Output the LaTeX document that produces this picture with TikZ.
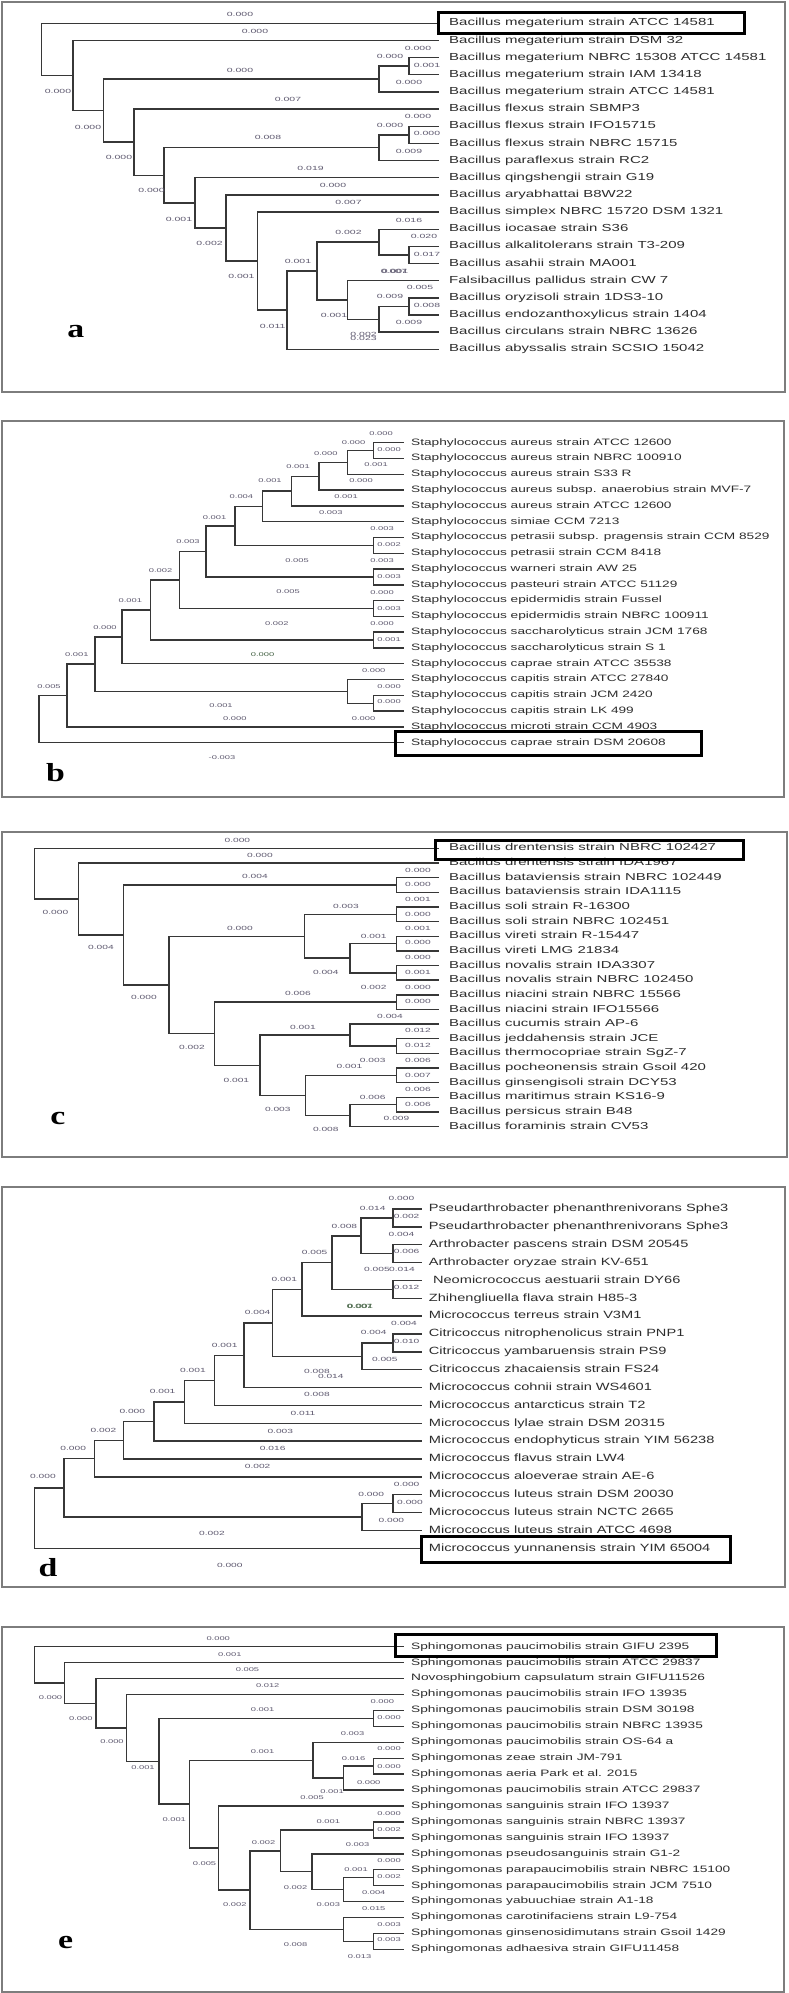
\documentclass[tikz,border=0pt]{standalone}
\usepackage{fontspec}
\usepackage{graphicx}
\setmainfont{Liberation Sans}
\newfontfamily\serifb{Liberation Serif}
\usetikzlibrary{calc}
\definecolor{treec}{RGB}{55,55,55}
\definecolor{leafc}{RGB}{45,45,45}
\definecolor{blc}{RGB}{95,90,112}
\definecolor{blg}{RGB}{70,100,70}
\definecolor{framec}{RGB}{125,125,125}
\newcounter{blcount}
\newcommand\BLab[4][blc]{\stepcounter{blcount}\node[blab,text=#1] (bl\theblcount) at (#2,#3) {\scalebox{\bsx}[1]{#4}};}
\newcommand\Leaf[3]{\node[leaf] (#1) at (\lxe,{\yo+\ys*(#2-1)}) {\scalebox{\lsx}[1]{#3}};}
\newcommand\TreeN[4]{\path let \p1=(#3),\p2=(#4) in coordinate (#1) at ({#2pt},{(\y1+\y2)/2});
  \draw[tree] (#1) |- (#3); \draw[tree] (#1) |- (#4);}
\newcommand\PanelSet[8]{\def\lfs{#1}\def\lsx{#2}\def\lth{#3}\def\ltd{#4}\def\lxs{#5}\def\bfs{#6}\def\bsx{#7}\def\lxe{#8}}
\begin{document}
\begin{tikzpicture}[x=1pt,y=-1pt,
  tree/.style={draw=treec,line width=1.4pt},
  leaf/.style={anchor=west,inner xsep=\lxs,inner ysep=0pt,text=leafc,
    font=\fontsize{\lfs}{\lfs}\selectfont,text height=\lth,text depth=\ltd},
  blab/.style={inner sep=0pt,font=\fontsize{\bfs}{\bfs}\selectfont},
  plet/.style={inner sep=0pt,font=\fontsize{26}{26}\serifb\bfseries,text=black},
  frame/.style={draw=framec,line width=1.2pt},
  hbox/.style={draw=black,line width=3pt}]
\useasboundingbox[fill=white] (0,0) rectangle (789,1993);

%% ===================== panel a =====================
\draw[frame] (2,2) rectangle (785,392);
\PanelSet{10.2}{1.47}{7.4pt}{2.2pt}{10pt}{6}{1.75}{439}
\def\yo{23.3}\def\ys{17.16}
\Leaf{aL1}{1}{Bacillus megaterium strain ATCC 14581}
\Leaf{aL2}{2}{Bacillus megaterium strain DSM 32}
\Leaf{aL3}{3}{Bacillus megaterium NBRC 15308 ATCC 14581}
\Leaf{aL4}{4}{Bacillus megaterium strain IAM 13418}
\Leaf{aL5}{5}{Bacillus megaterium strain ATCC 14581}
\Leaf{aL6}{6}{Bacillus flexus strain SBMP3}
\Leaf{aL7}{7}{Bacillus flexus strain IFO15715}
\Leaf{aL8}{8}{Bacillus flexus strain NBRC 15715}
\Leaf{aL9}{9}{Bacillus paraflexus strain RC2}
\Leaf{aL10}{10}{Bacillus qingshengii strain G19}
\Leaf{aL11}{11}{Bacillus aryabhattai B8W22}
\Leaf{aL12}{12}{Bacillus simplex NBRC 15720 DSM 1321}
\Leaf{aL13}{13}{Bacillus iocasae strain S36}
\Leaf{aL14}{14}{Bacillus alkalitolerans strain T3-209}
\Leaf{aL15}{15}{Bacillus asahii strain MA001}
\Leaf{aL16}{16}{Falsibacillus pallidus strain CW 7}
\Leaf{aL17}{17}{Bacillus oryzisoli strain 1DS3-10}
\Leaf{aL18}{18}{Bacillus endozanthoxylicus strain 1404}
\Leaf{aL19}{19}{Bacillus circulans strain NBRC 13626}
\Leaf{aL20}{20}{Bacillus abyssalis strain SCSIO 15042}
\TreeN{aN34}{409}{aL3.west}{aL4.west}
\TreeN{aN35}{379}{aN34}{aL5.west}
\TreeN{aN78}{409}{aL7.west}{aL8.west}
\TreeN{aN79}{379}{aN78}{aL9.west}
\TreeN{aN1415}{409}{aL14.west}{aL15.west}
\TreeN{aN1315}{379}{aL13.west}{aN1415}
\TreeN{aN1718}{409}{aL17.west}{aL18.west}
\TreeN{aN1719}{379}{aN1718}{aL19.west}
\TreeN{aN1619}{347.5}{aL16.west}{aN1719}
\TreeN{aN1319}{317}{aN1315}{aN1619}
\TreeN{aN1320}{287}{aN1319}{aL20.west}
\TreeN{aN1220}{257.6}{aL12.west}{aN1320}
\TreeN{aN1120}{226}{aL11.west}{aN1220}
\TreeN{aN1020}{195}{aL10.west}{aN1120}
\TreeN{aN720}{164}{aN79}{aN1020}
\TreeN{aN620}{134}{aL6.west}{aN720}
\TreeN{aN320}{103.5}{aN35}{aN620}
\TreeN{aN220}{73}{aL2.west}{aN320}
\TreeN{aN120}{41.4}{aL1.west}{aN220}
\draw[hbox] (438,12.3) rectangle (744,33.3);
\BLab{240}{14}{0.000}\BLab{255}{31}{0.000}\BLab{418}{48.3}{0.000}
\BLab{390}{56}{0.000}\BLab{427}{65}{0.001}\BLab{240}{70}{0.000}
\BLab{409}{82.3}{0.000}\BLab{58}{91}{0.000}\BLab{288}{99.3}{0.007}
\BLab{418}{116.7}{0.000}\BLab{390}{125}{0.000}\BLab{427}{133.3}{0.000}
\BLab{88}{127.7}{0.000}\BLab{268}{137.7}{0.008}\BLab{409}{151.7}{0.009}
\BLab{119}{157.7}{0.000}\BLab{310.6}{168.3}{0.019}\BLab{151.5}{190.7}{0.000}
\BLab{333}{185}{0.000}\BLab{348.5}{202.7}{0.007}\BLab{179}{219}{0.001}
\BLab{409}{220}{0.016}\BLab{348.5}{232.3}{0.002}\BLab{424}{236.7}{0.020}
\BLab{209.6}{243.3}{0.002}\BLab{427}{254}{0.017}\BLab{298}{261}{0.001}
\BLab{394}{271}{0.007}\BLab{395}{271}{0.001}
\BLab{241.4}{276.7}{0.001}\BLab{420}{287.7}{0.005}\BLab{390}{296.7}{0.009}
\BLab{427}{305.7}{0.008}\BLab{334}{315.7}{0.001}\BLab{409}{322.7}{0.009}
\BLab{272.7}{326.7}{0.011}\BLab{363.6}{334}{0.002}\BLab{363.6}{338.3}{0.023}
\node[plet] (pa) at (75.8,331.7) {\scalebox{1.3}[1]{a}};

%% ===================== panel b =====================
\draw[frame] (2,421) rectangle (784,797);
\PanelSet{9.3}{1.47}{6.7pt}{2pt}{7pt}{5.5}{1.7}{404}
\def\yo{442.7}\def\ys{15.79}
\Leaf{bL1}{1}{Staphylococcus aureus strain ATCC 12600}
\Leaf{bL2}{2}{Staphylococcus aureus strain NBRC 100910}
\Leaf{bL3}{3}{Staphylococcus aureus strain S33 R}
\Leaf{bL4}{4}{Staphylococcus aureus subsp. anaerobius strain MVF-7}
\Leaf{bL5}{5}{Staphylococcus aureus strain ATCC 12600}
\Leaf{bL6}{6}{Staphylococcus simiae CCM 7213}
\Leaf{bL7}{7}{Staphylococcus petrasii subsp. pragensis strain CCM 8529}
\Leaf{bL8}{8}{Staphylococcus petrasii strain CCM 8418}
\Leaf{bL9}{9}{Staphylococcus warneri strain AW 25}
\Leaf{bL10}{10}{Staphylococcus pasteuri strain ATCC 51129}
\Leaf{bL11}{11}{Staphylococcus epidermidis strain Fussel}
\Leaf{bL12}{12}{Staphylococcus epidermidis strain NBRC 100911}
\Leaf{bL13}{13}{Staphylococcus saccharolyticus strain JCM 1768}
\Leaf{bL14}{14}{Staphylococcus saccharolyticus strain S 1}
\Leaf{bL15}{15}{Staphylococcus caprae strain ATCC 35538}
\Leaf{bL16}{16}{Staphylococcus capitis strain ATCC 27840}
\Leaf{bL17}{17}{Staphylococcus capitis strain JCM 2420}
\Leaf{bL18}{18}{Staphylococcus capitis strain LK 499}
\Leaf{bL19}{19}{Staphylococcus microti strain CCM 4903}
\Leaf{bL20}{20}{Staphylococcus caprae strain DSM 20608}
\TreeN{bN12}{373.7}{bL1.west}{bL2.west}
\TreeN{bN13}{347.5}{bN12}{bL3.west}
\TreeN{bN14}{319}{bN13}{bL4.west}
\TreeN{bN15}{291.4}{bN14}{bL5.west}
\TreeN{bN16}{262.6}{bN15}{bL6.west}
\TreeN{bN78}{373.7}{bL7.west}{bL8.west}
\TreeN{bN18}{234.8}{bN16}{bN78}
\TreeN{bN910}{373.7}{bL9.west}{bL10.west}
\TreeN{bN110}{206}{bN18}{bN910}
\TreeN{bN1112}{373.7}{bL11.west}{bL12.west}
\TreeN{bN112}{179.3}{bN110}{bN1112}
\TreeN{bN1314}{373.7}{bL13.west}{bL14.west}
\TreeN{bN114}{150.5}{bN112}{bN1314}
\TreeN{bN115}{122}{bN114}{bL15.west}
\TreeN{bN1718}{373.7}{bL17.west}{bL18.west}
\TreeN{bN1618}{347.5}{bL16.west}{bN1718}
\TreeN{bN118}{95}{bN115}{bN1618}
\TreeN{bN119}{67}{bN118}{bL19.west}
\TreeN{bN120}{39}{bN119}{bL20.west}
\draw[hbox] (395.5,731) rectangle (701,755.7);
\BLab{381}{433.3}{0.000}\BLab{353.5}{442.7}{0.000}\BLab{389}{449.3}{0.000}
\BLab{325.8}{453.3}{0.000}\BLab{376}{465}{0.001}\BLab{298}{466.7}{0.001}
\BLab{361}{481}{0.000}\BLab{270}{481}{0.001}\BLab{346}{496.7}{0.001}
\BLab{241.4}{496.7}{0.004}\BLab{330.8}{512.7}{0.003}\BLab{214.6}{517.3}{0.001}
\BLab{382}{528.3}{0.003}\BLab{188}{541.7}{0.003}\BLab{389}{545}{0.002}
\BLab{297}{560.7}{0.005}\BLab{382}{560.7}{0.003}\BLab{160.6}{570.7}{0.002}
\BLab{389}{576.7}{0.003}\BLab{288}{592}{0.005}\BLab{382}{592.3}{0.000}
\BLab{130.3}{600.7}{0.001}\BLab{389}{608.3}{0.003}\BLab{276.8}{623.3}{0.002}
\BLab{382}{623.3}{0.000}\BLab{105}{627.3}{0.000}\BLab{389}{640}{0.001}
\BLab{76.8}{654.3}{0.001}\BLab[blg]{262.6}{654.3}{0.000}\BLab{373.7}{670.7}{0.000}
\BLab{49}{686.7}{0.005}\BLab{389}{686.7}{0.000}\BLab{389}{701.7}{0.000}
\BLab{221}{706}{0.001}\BLab{234.8}{718.3}{0.000}\BLab{363.6}{718.3}{0.000}
\BLab{222}{757.3}{-0.003}
\node[plet] (pb) at (55.5,773) {\scalebox{1.3}[1]{b}};

%% ===================== panel c =====================
\draw[frame] (2,832) rectangle (787,1157);
\PanelSet{10}{1.5}{7.2pt}{2.1pt}{10pt}{6}{1.7}{439}
\def\yo{848.3}\def\ys{14.65}
\Leaf{cL1}{1}{Bacillus drentensis strain NBRC 102427}
\Leaf{cL2}{2}{Bacillus drentensis strain IDA1967}
\Leaf{cL3}{3}{Bacillus bataviensis strain NBRC 102449}
\Leaf{cL4}{4}{Bacillus bataviensis strain IDA1115}
\Leaf{cL5}{5}{Bacillus soli strain R-16300}
\Leaf{cL6}{6}{Bacillus soli strain NBRC 102451}
\Leaf{cL7}{7}{Bacillus vireti strain R-15447}
\Leaf{cL8}{8}{Bacillus vireti LMG 21834}
\Leaf{cL9}{9}{Bacillus novalis strain IDA3307}
\Leaf{cL10}{10}{Bacillus novalis strain NBRC 102450}
\Leaf{cL11}{11}{Bacillus niacini strain NBRC 15566}
\Leaf{cL12}{12}{Bacillus niacini strain IFO15566}
\Leaf{cL13}{13}{Bacillus cucumis strain AP-6}
\Leaf{cL14}{14}{Bacillus jeddahensis strain JCE}
\Leaf{cL15}{15}{Bacillus thermocopriae strain SgZ-7}
\Leaf{cL16}{16}{Bacillus pocheonensis strain Gsoil 420}
\Leaf{cL17}{17}{Bacillus ginsengisoli strain DCY53}
\Leaf{cL18}{18}{Bacillus maritimus strain KS16-9}
\Leaf{cL19}{19}{Bacillus persicus strain B48}
\Leaf{cL20}{20}{Bacillus foraminis strain CV53}
\TreeN{cN34}{396.5}{cL3.west}{cL4.west}
\TreeN{cN56}{396.5}{cL5.west}{cL6.west}
\TreeN{cN78}{396.5}{cL7.west}{cL8.west}
\TreeN{cN910}{396.5}{cL9.west}{cL10.west}
\TreeN{cN710}{350}{cN78}{cN910}
\TreeN{cN510}{304.5}{cN56}{cN710}
\TreeN{cN1112}{396.5}{cL11.west}{cL12.west}
\TreeN{cN1415}{396.5}{cL14.west}{cL15.west}
\TreeN{cN1315}{350}{cL13.west}{cN1415}
\TreeN{cN1617}{396.5}{cL16.west}{cL17.west}
\TreeN{cN1819}{396.5}{cL18.west}{cL19.west}
\TreeN{cN1820}{350}{cN1819}{cL20.west}
\TreeN{cN1620}{305.6}{cN1617}{cN1820}
\TreeN{cN1320}{260}{cN1315}{cN1620}
\TreeN{cN1120}{214.6}{cN1112}{cN1320}
\TreeN{cN520}{169}{cN510}{cN1120}
\TreeN{cN320}{123.7}{cN34}{cN520}
\TreeN{cN220}{78.3}{cL2.west}{cN320}
\TreeN{cN120}{34.3}{cL1.west}{cN220}
\draw[hbox] (435,840.7) rectangle (743.4,859.3);
\BLab{237.4}{840.7}{0.000}\BLab{260}{855}{0.000}\BLab{418}{870}{0.000}
\BLab{255}{876.7}{0.004}\BLab{418}{884}{0.000}\BLab{418}{899.3}{0.001}
\BLab{55.5}{912.7}{0.000}\BLab{346}{906.7}{0.003}\BLab{418}{914}{0.000}
\BLab{418}{928.3}{0.001}\BLab{240}{928.3}{0.000}\BLab{373.7}{936.7}{0.001}
\BLab{418}{942.7}{0.000}\BLab{101}{947.7}{0.004}\BLab{418}{957.3}{0.000}
\BLab{325.8}{972.7}{0.004}\BLab{418}{972.7}{0.001}\BLab{373.7}{987.7}{0.002}
\BLab{418}{987.7}{0.000}\BLab{298}{993.3}{0.006}\BLab{144}{997.5}{0.000}
\BLab{418}{1001.7}{0.000}\BLab{390}{1016}{0.004}\BLab{303}{1027.3}{0.001}
\BLab{418}{1030.7}{0.012}\BLab{192}{1047.3}{0.002}\BLab{418}{1045.7}{0.012}
\BLab{372.7}{1060}{0.003}\BLab{418}{1060}{0.006}\BLab{349.5}{1066.7}{0.001}
\BLab{418}{1075}{0.007}\BLab{236.4}{1080}{0.001}\BLab{418}{1089}{0.006}
\BLab{372.7}{1097.3}{0.006}\BLab{418}{1104}{0.006}\BLab{277.8}{1109}{0.003}
\BLab{396.5}{1118.3}{0.009}\BLab{325.8}{1129.3}{0.008}
\node[plet] (pc) at (58,1118) {\scalebox{1.3}[1]{c}};

%% ===================== panel d =====================
\draw[frame] (2,1187) rectangle (785,1587);
\PanelSet{10.5}{1.39}{7.6pt}{2.2pt}{7pt}{6}{1.7}{421.7}
\def\yo{1209}\def\ys{17.86}
\Leaf{dL1}{1}{Pseudarthrobacter phenanthrenivorans Sphe3}
\Leaf{dL2}{2}{Pseudarthrobacter phenanthrenivorans Sphe3}
\Leaf{dL3}{3}{Arthrobacter pascens strain DSM 20545}
\Leaf{dL4}{4}{Arthrobacter oryzae strain KV-651}
\Leaf{dL5}{5}{\hspace{3pt}Neomicrococcus aestuarii strain DY66}
\Leaf{dL6}{6}{Zhihengliuella flava strain H85-3}
\Leaf{dL7}{7}{Micrococcus terreus strain V3M1}
\Leaf{dL8}{8}{Citricoccus nitrophenolicus strain PNP1}
\Leaf{dL9}{9}{Citricoccus yambaruensis strain PS9}
\Leaf{dL10}{10}{Citricoccus zhacaiensis strain FS24}
\Leaf{dL11}{11}{Micrococcus cohnii strain WS4601}
\Leaf{dL12}{12}{Micrococcus antarcticus strain T2}
\Leaf{dL13}{13}{Micrococcus lylae strain DSM 20315}
\Leaf{dL14}{14}{Micrococcus endophyticus strain YIM 56238}
\Leaf{dL15}{15}{Micrococcus flavus strain LW4}
\Leaf{dL16}{16}{Micrococcus aloeverae strain AE-6}
\Leaf{dL17}{17}{Micrococcus luteus strain DSM 20030}
\Leaf{dL18}{18}{Micrococcus luteus strain NCTC 2665}
\Leaf{dL19}{19}{Micrococcus luteus strain ATCC 4698}
\Leaf{dL20}{20}{Micrococcus yunnanensis strain YIM 65004}
\TreeN{dN12}{393}{dL1.west}{dL2.west}
\TreeN{dN34}{393}{dL3.west}{dL4.west}
\TreeN{dN14}{361}{dN12}{dN34}
\TreeN{dN56}{393}{dL5.west}{dL6.west}
\TreeN{dN16}{331.8}{dN14}{dN56}
\TreeN{dN17}{302}{dN16}{dL7.west}
\TreeN{dN89}{393}{dL8.west}{dL9.west}
\TreeN{dN810}{362}{dN89}{dL10.west}
\TreeN{dN110}{272.7}{dN17}{dN810}
\TreeN{dN111}{244}{dN110}{dL11.west}
\TreeN{dN112}{214.6}{dN111}{dL12.west}
\TreeN{dN113}{184.3}{dN112}{dL13.west}
\TreeN{dN114}{154}{dN113}{dL14.west}
\TreeN{dN115}{123.7}{dN114}{dL15.west}
\TreeN{dN116}{94.4}{dN115}{dL16.west}
\TreeN{dN1718}{393}{dL17.west}{dL18.west}
\TreeN{dN1719}{362}{dN1718}{dL19.west}
\TreeN{dN119}{64}{dN116}{dN1719}
\TreeN{dN120}{34.3}{dN119}{dL20.west}
\draw[hbox] (421.7,1536.7) rectangle (730.8,1562.3);
\BLab{401.5}{1198.3}{0.000}\BLab{372.7}{1208.3}{0.014}\BLab{406.6}{1216.7}{0.002}
\BLab{344.4}{1226}{0.008}\BLab{401.5}{1234.3}{0.004}\BLab{406.6}{1251.7}{0.006}
\BLab{314.6}{1252.3}{0.005}\BLab{377}{1269}{0.005}\BLab{402}{1269}{0.014}
\BLab{284.3}{1279}{0.001}\BLab{406.6}{1287.7}{0.012}
\BLab[blg]{359.6}{1306}{0.007}\BLab[blg]{360.4}{1306}{0.001}
\BLab{257.6}{1312.7}{0.004}\BLab{404}{1323.3}{0.004}\BLab{373.7}{1332.3}{0.004}
\BLab{406.6}{1341.7}{0.010}\BLab{224.7}{1345}{0.001}\BLab{384.8}{1359.3}{0.005}
\BLab{193}{1370.7}{0.001}\BLab{317}{1371.7}{0.008}\BLab{330.8}{1376.7}{0.014}
\BLab{162.6}{1391.7}{0.001}\BLab{317}{1394}{0.008}\BLab{132.3}{1411}{0.000}
\BLab{303}{1413.3}{0.011}\BLab{103.5}{1430}{0.002}\BLab{280.3}{1431}{0.003}
\BLab{73.2}{1448.3}{0.000}\BLab{272.7}{1448.3}{0.016}\BLab{257.6}{1466.7}{0.002}
\BLab{43}{1476.7}{0.000}\BLab{406.6}{1484.3}{0.000}\BLab{371.2}{1494.3}{0.000}
\BLab{410}{1502.3}{0.000}\BLab{391.4}{1520}{0.000}\BLab{212}{1533.3}{0.002}
\BLab{229.8}{1565}{0.000}
\node[plet] (pd) at (48,1568) {\scalebox{1.3}[1]{d}};

%% ===================== panel e =====================
\draw[frame] (2,1627) rectangle (784,1992);
\PanelSet{9.3}{1.47}{6.7pt}{2pt}{7pt}{5.5}{1.7}{404}
\def\yo{1646.7}\def\ys{15.93}
\Leaf{eL1}{1}{Sphingomonas paucimobilis strain GIFU 2395}
\Leaf{eL2}{2}{Sphingomonas paucimobilis strain ATCC 29837}
\Leaf{eL3}{3}{Novosphingobium capsulatum strain GIFU11526}
\Leaf{eL4}{4}{Sphingomonas paucimobilis strain IFO 13935}
\Leaf{eL5}{5}{Sphingomonas paucimobilis strain DSM 30198}
\Leaf{eL6}{6}{Sphingomonas paucimobilis strain NBRC 13935}
\Leaf{eL7}{7}{Sphingomonas paucimobilis strain OS-64 a}
\Leaf{eL8}{8}{Sphingomonas zeae strain JM-791}
\Leaf{eL9}{9}{Sphingomonas aeria Park et al. 2015}
\Leaf{eL10}{10}{Sphingomonas paucimobilis strain ATCC 29837}
\Leaf{eL11}{11}{Sphingomonas sanguinis strain IFO 13937}
\Leaf{eL12}{12}{Sphingomonas sanguinis strain NBRC 13937}
\Leaf{eL13}{13}{Sphingomonas sanguinis strain IFO 13937}
\Leaf{eL14}{14}{Sphingomonas pseudosanguinis strain G1-2}
\Leaf{eL15}{15}{Sphingomonas parapaucimobilis strain NBRC 15100}
\Leaf{eL16}{16}{Sphingomonas parapaucimobilis strain JCM 7510}
\Leaf{eL17}{17}{Sphingomonas yabuuchiae strain A1-18}
\Leaf{eL18}{18}{Sphingomonas carotinifaciens strain L9-754}
\Leaf{eL19}{19}{Sphingomonas ginsenosidimutans strain Gsoil 1429}
\Leaf{eL20}{20}{Sphingomonas adhaesiva strain GIFU11458}
\TreeN{eN56}{373.7}{eL5.west}{eL6.west}
\TreeN{eN89}{373.7}{eL8.west}{eL9.west}
\TreeN{eN810}{343.4}{eN89}{eL10.west}
\TreeN{eN710}{313}{eL7.west}{eN810}
\TreeN{eN1213}{373.7}{eL12.west}{eL13.west}
\TreeN{eN1516}{373.7}{eL15.west}{eL16.west}
\TreeN{eN1517}{343.4}{eN1516}{eL17.west}
\TreeN{eN1417}{312}{eL14.west}{eN1517}
\TreeN{eN1217}{280.3}{eN1213}{eN1417}
\TreeN{eN1920}{373.7}{eL19.west}{eL20.west}
\TreeN{eN1820}{343.4}{eL18.west}{eN1920}
\TreeN{eN1220}{250}{eN1217}{eN1820}
\TreeN{eN1120}{218.7}{eL11.west}{eN1220}
\TreeN{eN720}{189.4}{eN710}{eN1120}
\TreeN{eN520}{159}{eN56}{eN720}
\TreeN{eN420}{126.3}{eL4.west}{eN520}
\TreeN{eN320}{96}{eL3.west}{eN420}
\TreeN{eN220}{64.6}{eL2.west}{eN320}
\TreeN{eN120}{34.3}{eL1.west}{eN220}
\draw[hbox] (395.5,1634.3) rectangle (716,1656.7);
\BLab{218.2}{1638.3}{0.000}\BLab{229.8}{1654.3}{0.001}\BLab{247.5}{1670}{0.005}
\BLab{267.7}{1685.7}{0.012}\BLab{50.5}{1697.7}{0.000}\BLab{382.3}{1701.7}{0.000}
\BLab{262.6}{1710}{0.001}\BLab{389}{1717.7}{0.000}\BLab{80.8}{1718.3}{0.000}
\BLab{352.5}{1733.3}{0.003}\BLab{112}{1741.7}{0.000}\BLab{262.6}{1751.7}{0.001}
\BLab{389}{1749}{0.000}\BLab{353.5}{1758.3}{0.016}\BLab{389}{1766.7}{0.000}
\BLab{143}{1767.7}{0.001}\BLab{368.7}{1782.3}{0.000}
\BLab{332}{1791.7}{0.001}\BLab{312}{1797.5}{0.005}
\BLab{389}{1813.3}{0.000}\BLab{174.2}{1820}{0.001}\BLab{328.3}{1821.7}{0.001}
\BLab{389}{1829.3}{0.002}\BLab{263.6}{1842.3}{0.002}\BLab{357.6}{1845}{0.003}
\BLab{204.5}{1863.3}{0.005}\BLab{389}{1861}{0.000}\BLab{356}{1869.3}{0.001}
\BLab{389}{1876.7}{0.002}\BLab{295.5}{1887.3}{0.002}\BLab{373.7}{1892.7}{0.004}
\BLab{234.8}{1905}{0.002}\BLab{328.3}{1905}{0.003}\BLab{373.7}{1909}{0.015}
\BLab{389}{1925}{0.003}\BLab{389}{1940}{0.003}\BLab{295.5}{1945}{0.008}
\BLab{359.6}{1956.7}{0.013}
\node[plet] (pe) at (65.7,1942) {\scalebox{1.3}[1]{e}};
\end{tikzpicture}
\end{document}
